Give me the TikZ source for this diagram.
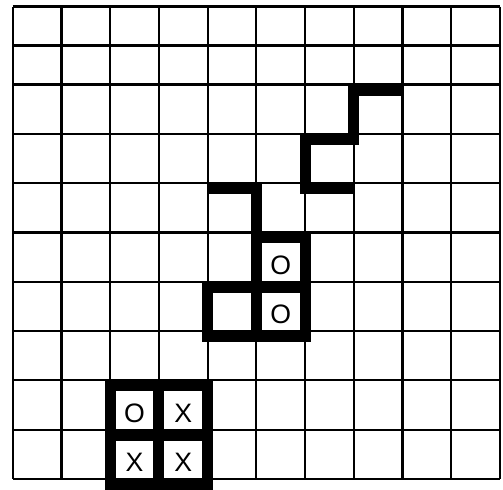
\documentclass[tikz,border=0pt]{standalone}
\usepackage{fontspec}
\setmainfont{Liberation Sans}
\usepackage{tikz}
\usetikzlibrary{positioning, calc}

\tikzset{
  grid line/.style={line width=1.65pt, black},
  wall/.style={line width=8.25pt, black, line cap=butt},
  piece/.style={inner sep=0pt, font=\fontsize{20}{20}\selectfont}
}

\begin{document}
\begin{tikzpicture}[x=0.75pt, y=-0.75pt]
      \useasboundingbox (0,0) rectangle (503,489);

      % Grid lines
      \foreach \i in {0,...,10}
        \coordinate (v\i) at ({12.7+48.73*\i}, 0);
      \foreach \j/\y in {0/6.5, 1/45.5, 2/84.5, 3/133.8, 4/183.1, 5/232.4,
                         6/281.7, 7/331.0, 8/380.3, 9/429.6, 10/478.9} {
        \coordinate (h\j) at (0, \y);
        \coordinate (w\j) at (0, \y+5.5);
        \coordinate (e\j) at (0, \y+11);
      }
      \foreach \i in {0,...,10}
        \draw[grid line] (v\i |- h0) -- (v\i |- h10);
      \foreach \j in {0,...,10}
        \draw[grid line] (v0 |- h\j) -- (v10 |- h\j);

      % Thick walls, horizontal
      \foreach \i/\j in {7/2, 6/3, 6/4, 4/4, 5/5, 4/6, 5/6, 4/7, 5/7,
                         2/8, 3/8, 2/9, 3/9, 2/10, 3/10} {
        \pgfmathtruncatemacro{\k}{\i+1}
        \draw[wall] (v\i |- w\j) -- (v\k |- w\j);
      }

      % Thick walls, vertical
      \foreach \i/\a/\b in {7/2/3, 6/3/4, 5/4/7, 6/5/7, 4/6/7,
                            2/8/10, 3/8/10, 4/8/10}
        \draw[wall] (v\i |- h\a) -- (v\i |- e\b);

      % Pieces
      \node[piece] (o1) at (280.8, 265) {O};
      \node[piece] (o2) at (280.8, 314.4) {O};
      \node[piece] (o3) at (134.6, 413) {O};
      \node[piece] (x1) at (183.3, 413) {X};
      \node[piece] (x2) at (134.6, 462) {X};
      \node[piece] (x3) at (183.3, 462) {X};
\end{tikzpicture}
\end{document}
